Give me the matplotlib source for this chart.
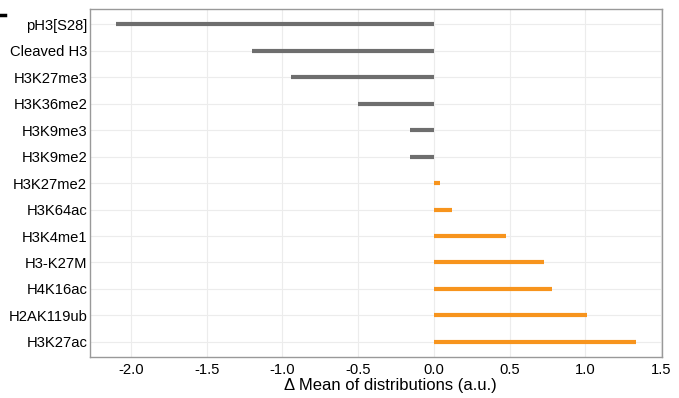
import matplotlib.pyplot as plt

plt.rcParams['font.family'] = ['Liberation Sans', 'DejaVu Sans']

# marques (de haut en bas)
marks = ['pH3[S28]', 'Cleaved H3', 'H3K27me3', 'H3K36me2', 'H3K9me3', 'H3K9me2',
         'H3K27me2', 'H3K64ac', 'H3K4me1', 'H3-K27M', 'H4K16ac', 'H2AK119ub', 'H3K27ac']
delta = [-2.10, -1.20, -0.945, -0.50, -0.16, -0.16,
         0.04, 0.12, 0.48, 0.73, 0.78, 1.01, 1.335]
xticks = [-2.0, -1.5, -1.0, -0.5, 0.0, 0.5, 1.0, 1.5]

fig = plt.figure(figsize=(6.79, 3.98), dpi=100)
ax = fig.add_axes([0.1325, 0.103, 0.8425, 0.874])

ypos = list(range(len(marks)))[::-1]
colors = ['#6e6e6e' if v < 0 else '#f7941d' for v in delta]
ax.hlines(ypos, 0, delta, colors=colors, linewidth=3.0, zorder=3)

ax.set_yticks(ypos)
ax.set_yticklabels(marks, fontsize=10.6)
ax.set_xticks(xticks)
ax.set_xticklabels([f'{t:.1f}' for t in xticks], fontsize=10.6)
ax.set_xlim(-2.27, 1.507)
ax.set_ylim(-0.57, len(marks) - 1 + 0.57)
ax.set_xlabel('Δ Mean of distributions (a.u.)', fontsize=12, labelpad=1)
ax.xaxis.label.set_x(0.525)

ax.grid(True, color='#ececec', linewidth=0.8, zorder=0)
ax.tick_params(axis='y', length=0, pad=2)
ax.tick_params(axis='x', length=0, pad=4)
for s in ax.spines.values():
    s.set_color('#999999')
    s.set_linewidth(1.0)

# petit trait en haut à gauche
fig.add_artist(plt.Line2D([0.0, 0.008], [0.962, 0.962], color='black', linewidth=2.5))

plt.savefig('out.png', dpi=100)
plt.close()
